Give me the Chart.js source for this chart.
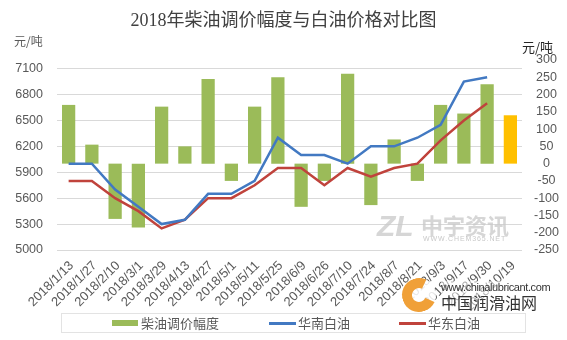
<!DOCTYPE html>
<html>
<head>
<meta charset="utf-8">
<script src="https://cdn.jsdelivr.net/npm/chart.js@4.4.0/dist/chart.umd.min.js"></script>
<style>
  body { margin: 0; background: #fff; }
  #wrap { position: relative; width: 567px; height: 340px; font-family: "Liberation Sans", "Noto Sans CJK SC", sans-serif; }
  .unit { position: absolute; font-size: 12px; color: #595959; font-family: "Noto Sans CJK SC", sans-serif; }
  #legend { position: absolute; left: 61px; top: 313px; width: 463px; height: 18px; border: 1px solid #E3E3E3; }
  .item { position: absolute; top: 0; height: 18px; font-size: 13px; color: #595959; line-height: 18px; font-family: "Noto Sans CJK SC", sans-serif; white-space: nowrap; }
  .swatch { position: absolute; }
  .wm { position: absolute; white-space: nowrap; }
</style>
</head>
<body>
<div id="wrap">
  <canvas id="chart" width="567" height="340"></canvas>
  <div class="unit" style="left:14px; top:32px;">元/吨</div>
  <div class="unit" style="left:522px; top:37px; font-size:13px; color:#262626;">元/吨</div>
  <div id="legend"></div>
  <!-- watermarks -->
  <div class="wm" style="left:377px; top:209px; font-size:30px; font-weight:bold; font-style:italic; color:rgba(200,200,200,0.75); font-family:'Liberation Sans';">ZL</div>
  <div class="wm" style="left:421px; top:211px; font-size:22px; line-height:26px; font-weight:bold; color:rgba(200,200,200,0.75); font-family:'Noto Sans CJK SC';">中宇资讯</div>
  <div class="wm" style="left:423px; top:235px; font-size:7px; color:rgba(190,190,190,0.85); letter-spacing:0.9px;">WWW.CHEM365.NET</div>
  <div class="wm" style="left:402px; top:278px; width:14px; height:14px; border:10px solid #F0A038; border-right-color:transparent; border-radius:50%; background:rgba(255,255,255,0.85); transform:rotate(-20deg);"></div>
  <div class="wm" style="left:441px; top:281px; font-size:11px; letter-spacing:-0.4px; color:#333; background:rgba(255,255,255,0.5);">www.chinalubricant.com</div>
  <div class="wm" style="left:441px; top:292px; font-size:16px; line-height:20px; color:#333; font-family:'Noto Sans CJK SC'; background:rgba(255,255,255,0.5);">中国润滑油网</div>
</div>
<script>
// categories (adjustment dates)
const labels = ['2018/1/13', '2018/1/27', '2018/2/10', '2018/3/1', '2018/3/29', '2018/4/13', '2018/4/27',
  '2018/5/1', '2018/5/11', '2018/5/25', '2018/6/9', '2018/6/26', '2018/7/10', '2018/7/24', '2018/8/7',
  '2018/8/21', '2018/9/3', '2018/9/17', '2018/9/30', '2018/10/19'];

// diesel price adjustment (元/吨, right axis)
const dieselChange = [170, 55, -160, -185, 165, 50, 245, -50, 165, 250, -125, -50, 260, -120, 70, -50, 170, 145, 230, 140];

// white oil prices (元/吨, left axis)
const southPrice = [6000, 6000, 5700, 5500, 5300, 5350, 5650, 5650, 5800, 6300, 6100, 6100, 6000, 6200, 6200, 6300, 6450, 6950, 7000, null];
const eastPrice = [5800, 5800, 5600, 5450, 5250, 5350, 5600, 5600, 5750, 5950, 5950, 5750, 5950, 5850, 5950, 6000, 6270, 6500, 6700, null];

// tick labels
const leftTicks = [5000, 5300, 5600, 5900, 6200, 6500, 6800, 7100];
const rightTicks = [-250, -200, -150, -100, -50, 0, 50, 100, 150, 200, 250, 300];

const seriesNames = ['柴油调价幅度', '华南白油', '华东白油'];

// last adjustment is the pending one, shown in orange
const barColors = dieselChange.map((v, i) => i === dieselChange.length - 1 ? '#FFC000' : '#9BBB59');

const tickFont = { family: '"Liberation Sans", sans-serif', size: 12.5 };

const chart = new Chart(document.getElementById('chart'), {
    type: 'bar',
    data: {
        labels: labels,
        datasets: [
            {
                type: 'bar',
                label: seriesNames[0],
                data: dieselChange,
                backgroundColor: barColors,
                yAxisID: 'y1',
                barPercentage: 0.57,
                categoryPercentage: 1,
                order: 2
            },
            {
                type: 'line',
                label: seriesNames[1],
                data: southPrice,
                borderColor: '#4279C2',
                borderWidth: 2.5,
                pointRadius: 0,
                tension: 0,
                yAxisID: 'y',
                order: 1
            },
            {
                type: 'line',
                label: seriesNames[2],
                data: eastPrice,
                borderColor: '#C0433C',
                borderWidth: 2.5,
                pointRadius: 0,
                tension: 0,
                yAxisID: 'y',
                order: 1
            }
        ]
    },
    options: {
        responsive: false,
        animation: false,
        events: [],
        devicePixelRatio: 1,
        layout: { padding: { left: 0, right: 0, top: 0, bottom: 30 } },
        plugins: {
            legend: { display: false },
            tooltip: { enabled: false },
            title: {
                display: true,
                text: '2018年柴油调价幅度与白油价格对比图',
                color: '#404040',
                font: { family: '"Liberation Serif", "Noto Sans CJK SC", serif', size: 18, weight: 'normal', lineHeight: 1.2 },
                padding: { top: 10, bottom: 28.4 }
            }
        },
        scales: {
            x: {
                grid: { display: false, drawTicks: false },
                border: { display: false },
                ticks: {
                    autoSkip: false,
                    minRotation: 45,
                    maxRotation: 45,
                    padding: 8,
                    labelOffset: 3,
                    color: '#595959',
                    font: { family: '"Liberation Sans", sans-serif', size: 13 }
                },
                afterFit: scale => { scale.height = 60; }
            },
            y: {
                position: 'left',
                min: 5000,
                max: 7200,
                grid: { color: '#D9D9D9', lineWidth: 1, drawTicks: false },
                border: { display: false },
                ticks: { padding: 14, color: '#595959', font: tickFont, callback: v => String(v) },
                afterBuildTicks: scale => { scale.ticks = leftTicks.map(v => ({ value: v })); },
                afterFit: scale => { scale.width = 57; }
            },
            y1: {
                position: 'right',
                min: -250,
                max: 300,
                grid: { display: false, drawTicks: false },
                border: { display: false },
                ticks: { autoSkip: false, padding: 12, crossAlign: 'center', color: '#595959', font: tickFont, callback: v => String(v) },
                afterBuildTicks: scale => { scale.ticks = rightTicks.map(v => ({ value: v })); },
                afterFit: scale => { scale.width = 45; }
            }
        }
    }
});

// HTML legend built from the datasets
const legend = document.getElementById('legend');
const itemLeft = [50, 207, 337];
chart.data.datasets.forEach((ds, i) => {
    const item = document.createElement('div');
    item.className = 'item';
    item.style.left = itemLeft[i] + 'px';
    const sw = document.createElement('div');
    sw.className = 'swatch';
    if (ds.type === 'bar') {
        sw.style.cssText = 'left:0; top:6px; width:26px; height:6px; background:' + ds.backgroundColor[0];
    } else {
        sw.style.cssText = 'left:0; top:8px; width:27px; height:2.5px; background:' + ds.borderColor;
    }
    item.appendChild(sw);
    const txt = document.createElement('span');
    txt.style.marginLeft = '29px';
    txt.textContent = ds.label;
    item.appendChild(txt);
    legend.appendChild(item);
});
</script>
</body>
</html>
